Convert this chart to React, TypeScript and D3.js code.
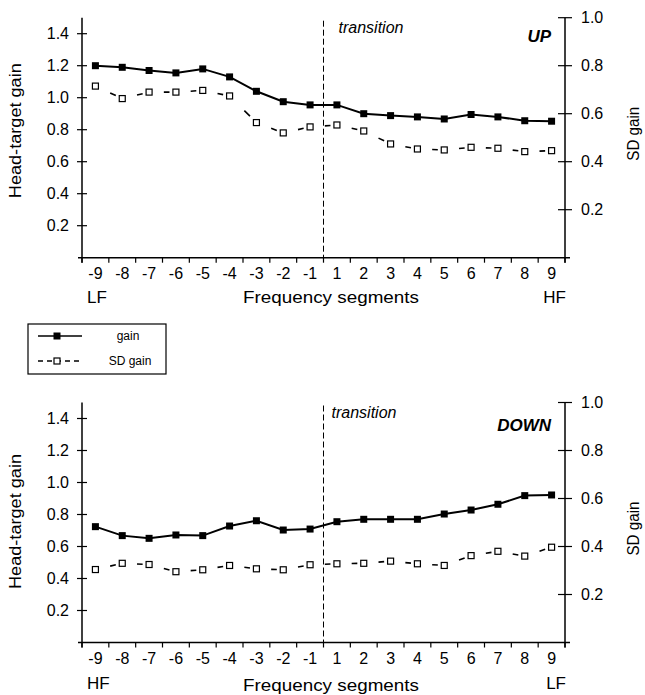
import React from "react";
import * as d3 from "d3";

// frequency segments on the x axis
const segments = ["-9", "-8", "-7", "-6", "-5", "-4", "-3", "-2", "-1", "1", "2", "3", "4", "5", "6", "7", "8", "9"];

// UP panel
const upGain = [1.2, 1.19, 1.17, 1.155, 1.18, 1.13, 1.04, 0.975, 0.955, 0.955, 0.9, 0.888, 0.88, 0.867, 0.895, 0.88, 0.856, 0.853];
const upSD = [0.715, 0.663, 0.69, 0.69, 0.697, 0.674, 0.563, 0.52, 0.545, 0.553, 0.528, 0.474, 0.453, 0.449, 0.46, 0.456, 0.442, 0.446];

// DOWN panel
const downGain = [0.724, 0.668, 0.651, 0.672, 0.668, 0.728, 0.761, 0.703, 0.709, 0.755, 0.77, 0.77, 0.77, 0.803, 0.828, 0.864, 0.918, 0.922];
const downSD = [0.304, 0.33, 0.325, 0.295, 0.303, 0.321, 0.307, 0.303, 0.324, 0.328, 0.33, 0.339, 0.328, 0.321, 0.362, 0.38, 0.36, 0.397];

const gainTicks = [0.2, 0.4, 0.6, 0.8, 1.0, 1.2, 1.4];
const sdTicks = [0.2, 0.4, 0.6, 0.8, 1.0];

const FONT = '"Liberation Sans", Arial, Helvetica, sans-serif';

type PanelProps = {
  base: number; // y of the zero line
  gain: number[];
  sd: number[];
  tag: string;
  leftEnd: string;
  rightEnd: string;
  tagDy: number;
  transDx: number;
  transDy: number;
  leftTitleDy: number;
  rightTitleDy: number;
  freqDy: number;
  endDy: number;
};

function Panel(p: PanelProps) {
  const x = d3.scaleBand<string>().domain(segments).range([82, 565]).padding(0);
  const yG = d3.scaleLinear().domain([0, 1.5]).range([p.base, p.base - 240]);
  const yS = d3.scaleLinear().domain([0, 1]).range([p.base, p.base - 240]);
  const cx = (i: number) => (x(segments[i]) as number) + x.bandwidth() / 2;
  const [x0, x1] = x.range();
  const top = yS(1);

  const gainLine = d3
    .line<number>()
    .x((_, i) => cx(i))
    .y(d => yG(d));

  // each SD segment gets its own dash, like the old plotting program
  const sdPairs = d3.pairs(p.sd.map((v, i) => [cx(i), yS(v)] as [number, number]));
  const seg = d3.line();

  const boundaries = segments.map(s => x(s) as number).concat([x1]);
  const transX = x("1") as number;

  return (
    <g>
      {/* transition line */}
      <line x1={transX} x2={transX} y1={top + 3} y2={p.base} stroke="#000" strokeWidth={1} strokeDasharray="6 3" />
      <text x={transX + p.transDx} y={top + p.transDy} fontSize={16} fontStyle="italic" fontFamily={FONT}>
        transition
      </text>
      <text x={551} y={top + p.tagDy} fontSize={17} fontStyle="italic" fontWeight="bold" textAnchor="end" fontFamily={FONT}>
        {p.tag}
      </text>

      {/* axes */}
      <line x1={x0} x2={x0} y1={top} y2={p.base + 5} stroke="#000" strokeWidth={1.5} />
      <line x1={x1} x2={x1} y1={top} y2={p.base + 5} stroke="#000" strokeWidth={1.5} />
      <line x1={x0 - 4} x2={x1 + 5} y1={p.base} y2={p.base} stroke="#000" strokeWidth={1.5} />
      {boundaries.map((b, i) => (
        <line key={"xt" + i} x1={b} x2={b} y1={p.base} y2={p.base + 5} stroke="#000" strokeWidth={1.2} />
      ))}
      {segments.map((s, i) => (
        <text key={"xl" + s} x={cx(i)} y={p.base + 21} fontSize={16} textAnchor="middle" fontFamily={FONT}>
          {s}
        </text>
      ))}
      {gainTicks.map(t => (
        <g key={"gt" + t}>
          <line x1={x0 - 5} x2={x0 + 5} y1={yG(t)} y2={yG(t)} stroke="#000" strokeWidth={1.2} />
          <text x={69} y={yG(t)} dy="0.36em" fontSize={16} textAnchor="end" fontFamily={FONT}>
            {t.toFixed(1)}
          </text>
        </g>
      ))}
      {sdTicks.map(t => (
        <g key={"st" + t}>
          <line x1={x1 - 7} x2={x1 + 7} y1={yS(t)} y2={yS(t)} stroke="#000" strokeWidth={1.2} />
          <text x={581} y={yS(t)} dy="0.36em" fontSize={16} fontFamily={FONT}>
            {t.toFixed(1)}
          </text>
        </g>
      ))}

      {/* axis titles */}
      <text
        transform={`translate(15,${top + p.leftTitleDy}) rotate(-90)`}
        textAnchor="middle"
        dominantBaseline="central"
        fontSize={16}
        textLength={135}
        lengthAdjust="spacingAndGlyphs"
        fontFamily={FONT}
      >
        Head-target gain
      </text>
      <text
        transform={`translate(633,${top + p.rightTitleDy}) rotate(-90)`}
        textAnchor="middle"
        dominantBaseline="central"
        fontSize={16}
        textLength={54}
        lengthAdjust="spacingAndGlyphs"
        fontFamily={FONT}
      >
        SD gain
      </text>
      <text x={87} y={p.base + p.endDy} fontSize={17} fontFamily={FONT}>
        {p.leftEnd}
      </text>
      <text x={566} y={p.base + p.endDy} fontSize={17} textAnchor="end" fontFamily={FONT}>
        {p.rightEnd}
      </text>
      <text x={331} y={p.base + p.freqDy} fontSize={17} textAnchor="middle" textLength={176} lengthAdjust="spacingAndGlyphs" fontFamily={FONT}>
        Frequency segments
      </text>

      {/* SD gain: dashed with open squares */}
      {sdPairs.map((pr, i) => (
        <path
          key={"sd" + i}
          d={seg(pr) as string}
          pathLength={1}
          fill="none"
          stroke="#000"
          strokeWidth={1.6}
          strokeDasharray="0 0.55 0.21 1"
        />
      ))}
      {p.sd.map((v, i) => (
        <rect key={"sq" + i} x={cx(i) - 3} y={yS(v) - 3} width={6} height={6} fill="#fff" stroke="#000" strokeWidth={1.2} />
      ))}

      {/* gain: solid with filled squares */}
      <path d={gainLine(p.gain) as string} fill="none" stroke="#000" strokeWidth={2} />
      {p.gain.map((v, i) => (
        <rect key={"gs" + i} x={cx(i) - 3.5} y={yG(v) - 3.5} width={7} height={7} fill="#000" />
      ))}
    </g>
  );
}

function Legend() {
  return (
    <g fontFamily={FONT}>
      <rect x={28} y={324} width={138} height={50} fill="#fff" stroke="#000" strokeWidth={1.2} />
      <line x1={38} x2={82} y1={336} y2={336} stroke="#000" strokeWidth={1.4} />
      <rect x={53.5} y={332.5} width={7} height={7} fill="#000" />
      <text x={128} y={336} dy="0.35em" fontSize={12} textAnchor="middle">
        gain
      </text>
      <line x1={38} x2={82} y1={361} y2={361} stroke="#000" strokeWidth={1.4} strokeDasharray="5 4" />
      <rect x={54} y={358} width={6} height={6} fill="#fff" stroke="#000" strokeWidth={1.2} />
      <text x={130} y={361} dy="0.35em" fontSize={12} textAnchor="middle">
        SD gain
      </text>
    </g>
  );
}

export default function App() {
  return (
    <div style={{ position: "absolute", left: 0, top: 0, background: "#fff" }}>
      <svg width={645} height={695} style={{ display: "block" }}>
        <rect width={645} height={695} fill="#fff" />
        <Panel
          base={257.7}
          gain={upGain}
          sd={upSD}
          tag="UP"
          leftEnd="LF"
          rightEnd="HF"
          tagDy={24}
          transDx={15}
          transDy={15}
          leftTitleDy={113}
          rightTitleDy={116}
          freqDy={45}
          endDy={45}
        />
        <Legend />
        <Panel
          base={642.5}
          gain={downGain}
          sd={downSD}
          tag="DOWN"
          leftEnd="HF"
          rightEnd="LF"
          tagDy={28}
          transDx={8}
          transDy={15}
          leftTitleDy={119}
          rightTitleDy={126}
          freqDy={48.5}
          endDy={46}
        />
      </svg>
    </div>
  );
}
